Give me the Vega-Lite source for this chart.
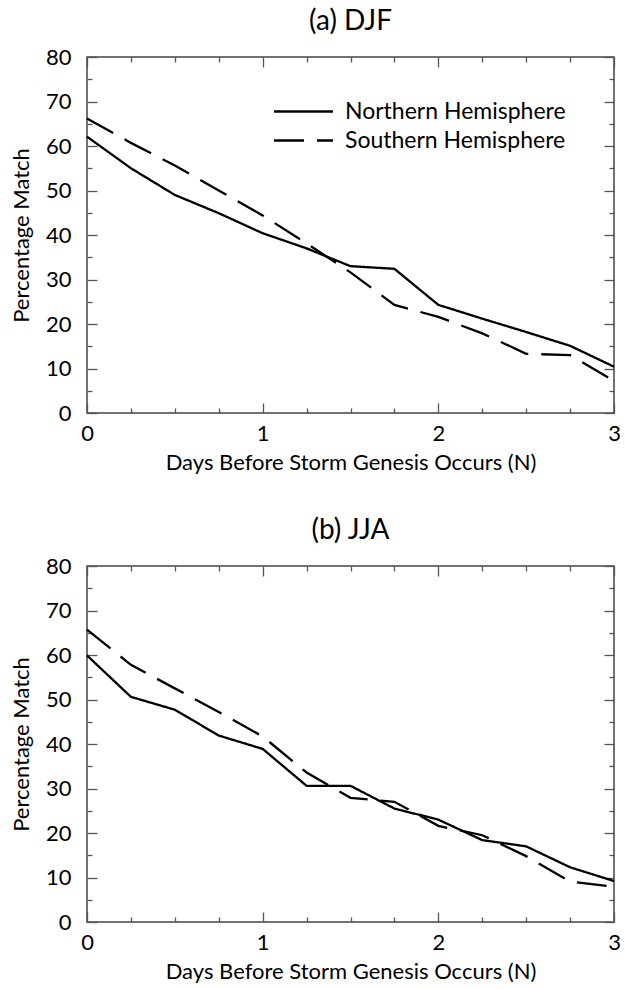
{
  "$schema": "https://vega.github.io/schema/vega-lite/v6.json",
  "padding": {"left": 9, "top": 7, "right": 12, "bottom": 4},
  "background": "white",
  "datasets": {
    "pts": [
      {"season": "DJF", "hemisphere": "Northern Hemisphere", "day": 0, "pct": 62.1},
      {"season": "DJF", "hemisphere": "Northern Hemisphere", "day": 0.25, "pct": 55.0},
      {"season": "DJF", "hemisphere": "Northern Hemisphere", "day": 0.5, "pct": 49.0},
      {"season": "DJF", "hemisphere": "Northern Hemisphere", "day": 0.75, "pct": 44.9},
      {"season": "DJF", "hemisphere": "Northern Hemisphere", "day": 1, "pct": 40.4},
      {"season": "DJF", "hemisphere": "Northern Hemisphere", "day": 1.25, "pct": 37.0},
      {"season": "DJF", "hemisphere": "Northern Hemisphere", "day": 1.5, "pct": 33.0},
      {"season": "DJF", "hemisphere": "Northern Hemisphere", "day": 1.75, "pct": 32.4},
      {"season": "DJF", "hemisphere": "Northern Hemisphere", "day": 2, "pct": 24.3},
      {"season": "DJF", "hemisphere": "Northern Hemisphere", "day": 2.25, "pct": 21.2},
      {"season": "DJF", "hemisphere": "Northern Hemisphere", "day": 2.5, "pct": 18.2},
      {"season": "DJF", "hemisphere": "Northern Hemisphere", "day": 2.75, "pct": 15.1},
      {"season": "DJF", "hemisphere": "Northern Hemisphere", "day": 3, "pct": 10.4},
      {"season": "DJF", "hemisphere": "Southern Hemisphere", "day": 0, "pct": 66.2},
      {"season": "DJF", "hemisphere": "Southern Hemisphere", "day": 0.25, "pct": 60.7},
      {"season": "DJF", "hemisphere": "Southern Hemisphere", "day": 0.5, "pct": 55.6},
      {"season": "DJF", "hemisphere": "Southern Hemisphere", "day": 0.75, "pct": 50.0},
      {"season": "DJF", "hemisphere": "Southern Hemisphere", "day": 1, "pct": 44.4},
      {"season": "DJF", "hemisphere": "Southern Hemisphere", "day": 1.25, "pct": 38.1},
      {"season": "DJF", "hemisphere": "Southern Hemisphere", "day": 1.5, "pct": 31.6},
      {"season": "DJF", "hemisphere": "Southern Hemisphere", "day": 1.75, "pct": 24.3},
      {"season": "DJF", "hemisphere": "Southern Hemisphere", "day": 2, "pct": 21.6},
      {"season": "DJF", "hemisphere": "Southern Hemisphere", "day": 2.25, "pct": 17.9},
      {"season": "DJF", "hemisphere": "Southern Hemisphere", "day": 2.5, "pct": 13.3},
      {"season": "DJF", "hemisphere": "Southern Hemisphere", "day": 2.75, "pct": 13.0},
      {"season": "DJF", "hemisphere": "Southern Hemisphere", "day": 3, "pct": 7.2},
      {"season": "JJA", "hemisphere": "Northern Hemisphere", "day": 0, "pct": 59.9},
      {"season": "JJA", "hemisphere": "Northern Hemisphere", "day": 0.25, "pct": 50.6},
      {"season": "JJA", "hemisphere": "Northern Hemisphere", "day": 0.5, "pct": 47.7},
      {"season": "JJA", "hemisphere": "Northern Hemisphere", "day": 0.75, "pct": 41.9},
      {"season": "JJA", "hemisphere": "Northern Hemisphere", "day": 1, "pct": 38.9},
      {"season": "JJA", "hemisphere": "Northern Hemisphere", "day": 1.25, "pct": 30.6},
      {"season": "JJA", "hemisphere": "Northern Hemisphere", "day": 1.5, "pct": 30.6},
      {"season": "JJA", "hemisphere": "Northern Hemisphere", "day": 1.75, "pct": 25.5},
      {"season": "JJA", "hemisphere": "Northern Hemisphere", "day": 2, "pct": 23.0},
      {"season": "JJA", "hemisphere": "Northern Hemisphere", "day": 2.25, "pct": 18.4},
      {"season": "JJA", "hemisphere": "Northern Hemisphere", "day": 2.5, "pct": 17.0},
      {"season": "JJA", "hemisphere": "Northern Hemisphere", "day": 2.75, "pct": 12.3},
      {"season": "JJA", "hemisphere": "Northern Hemisphere", "day": 3, "pct": 9.2},
      {"season": "JJA", "hemisphere": "Southern Hemisphere", "day": 0, "pct": 65.7},
      {"season": "JJA", "hemisphere": "Southern Hemisphere", "day": 0.25, "pct": 57.8},
      {"season": "JJA", "hemisphere": "Southern Hemisphere", "day": 0.5, "pct": 52.5},
      {"season": "JJA", "hemisphere": "Southern Hemisphere", "day": 0.75, "pct": 47.2},
      {"season": "JJA", "hemisphere": "Southern Hemisphere", "day": 1, "pct": 41.7},
      {"season": "JJA", "hemisphere": "Southern Hemisphere", "day": 1.25, "pct": 33.6},
      {"season": "JJA", "hemisphere": "Southern Hemisphere", "day": 1.5, "pct": 27.9},
      {"season": "JJA", "hemisphere": "Southern Hemisphere", "day": 1.75, "pct": 27.0},
      {"season": "JJA", "hemisphere": "Southern Hemisphere", "day": 2, "pct": 21.6},
      {"season": "JJA", "hemisphere": "Southern Hemisphere", "day": 2.25, "pct": 19.5},
      {"season": "JJA", "hemisphere": "Southern Hemisphere", "day": 2.5, "pct": 14.8},
      {"season": "JJA", "hemisphere": "Southern Hemisphere", "day": 2.75, "pct": 9.1},
      {"season": "JJA", "hemisphere": "Southern Hemisphere", "day": 3, "pct": 7.9}
    ]
  },
  "data": {"name": "pts"},
  "spacing": 42,
  "resolve": {"scale": {"strokeDash": "independent"}, "legend": {"strokeDash": "independent"}},
  "vconcat": [
    {
      "title": {"text": "(a) DJF"},
      "width": 527,
      "height": 356,
      "transform": [{"filter": "datum.season === 'DJF'"}],
      "resolve": {"axis": {"x": "independent", "y": "independent"}},
      "layer": [
        {
          "mark": {"type": "line", "color": "black", "strokeWidth": 2.3},
          "encoding": {
            "x": {"field": "day", "type": "quantitative", "scale": {"domain": [0, 3], "nice": false},
              "axis": {"orient": "bottom", "values": [0, 1, 2, 3], "format": "d", "ticks": false, "labelPadding": 10, "title": "Days Before Storm Genesis Occurs (N)", "titlePadding": 8}},
            "y": {"field": "pct", "type": "quantitative", "scale": {"domain": [0, 80], "nice": false},
              "axis": {"orient": "left", "values": [0, 10, 20, 30, 40, 50, 60, 70, 80], "format": "d", "ticks": false, "labelPadding": 16, "title": "Percentage Match", "titlePadding": 12}},
            "strokeDash": {"field": "hemisphere", "type": "nominal",
              "scale": {"domain": ["Northern Hemisphere", "Southern Hemisphere"], "range": [[1, 0], [30, 13]]},
              "legend": {"orient": "none", "legendX": 205, "legendY": 43, "title": null, "symbolType": "M-3,0H3", "symbolSize": 387, "symbolStrokeWidth": 2.3, "symbolStrokeColor": "black", "symbolFillColor": "transparent", "labelFontSize": 23, "labelOffset": 30, "labelLimit": 0, "rowPadding": 5, "labelColor": "black"}}
          }
        },
        {
          "mark": {"type": "line", "strokeOpacity": 0},
          "encoding": {
            "x": {"field": "day", "type": "quantitative", "axis": {"orient": "bottom", "values": [0, 1, 2, 3], "labels": false, "tickSize": -10, "title": null}},
            "y": {"field": "pct", "type": "quantitative", "axis": {"orient": "left", "values": [0, 10, 20, 30, 40, 50, 60, 70, 80], "labels": false, "tickSize": -10, "title": null}}
          }
        },
        {
          "mark": {"type": "line", "strokeOpacity": 0},
          "encoding": {
            "x": {"field": "day", "type": "quantitative", "axis": {"orient": "top", "values": [0, 1, 2, 3], "labels": false, "tickSize": -10, "title": null}},
            "y": {"field": "pct", "type": "quantitative", "axis": {"orient": "right", "values": [0, 10, 20, 30, 40, 50, 60, 70, 80], "labels": false, "tickSize": -10, "title": null}}
          }
        },
        {
          "mark": {"type": "line", "strokeOpacity": 0},
          "encoding": {
            "x": {"field": "day", "type": "quantitative", "axis": {"orient": "bottom", "values": [0.25, 0.5, 0.75, 1.25, 1.5, 1.75, 2.25, 2.5, 2.75], "labels": false, "tickSize": -5, "title": null}},
            "y": {"field": "pct", "type": "quantitative", "axis": {"orient": "left", "values": [5, 15, 25, 35, 45, 55, 65, 75], "labels": false, "tickSize": -5, "title": null}}
          }
        },
        {
          "mark": {"type": "line", "strokeOpacity": 0},
          "encoding": {
            "x": {"field": "day", "type": "quantitative", "axis": {"orient": "top", "values": [0.25, 0.5, 0.75, 1.25, 1.5, 1.75, 2.25, 2.5, 2.75], "labels": false, "tickSize": -5, "title": null}},
            "y": {"field": "pct", "type": "quantitative", "axis": {"orient": "right", "values": [5, 15, 25, 35, 45, 55, 65, 75], "labels": false, "tickSize": -5, "title": null}}
          }
        }
      ]
    },
    {
      "title": {"text": "(b) JJA"},
      "width": 527,
      "height": 356,
      "transform": [{"filter": "datum.season === 'JJA'"}],
      "resolve": {"axis": {"x": "independent", "y": "independent"}},
      "layer": [
        {
          "mark": {"type": "line", "color": "black", "strokeWidth": 2.3},
          "encoding": {
            "x": {"field": "day", "type": "quantitative", "scale": {"domain": [0, 3], "nice": false},
              "axis": {"orient": "bottom", "values": [0, 1, 2, 3], "format": "d", "ticks": false, "labelPadding": 10, "title": "Days Before Storm Genesis Occurs (N)", "titlePadding": 8}},
            "y": {"field": "pct", "type": "quantitative", "scale": {"domain": [0, 80], "nice": false},
              "axis": {"orient": "left", "values": [0, 10, 20, 30, 40, 50, 60, 70, 80], "format": "d", "ticks": false, "labelPadding": 16, "title": "Percentage Match", "titlePadding": 12}},
            "strokeDash": {"field": "hemisphere", "type": "nominal",
              "scale": {"domain": ["Northern Hemisphere", "Southern Hemisphere"], "range": [[1, 0], [30, 13]]},
              "legend": null}
          }
        },
        {
          "mark": {"type": "line", "strokeOpacity": 0},
          "encoding": {
            "x": {"field": "day", "type": "quantitative", "axis": {"orient": "bottom", "values": [0, 1, 2, 3], "labels": false, "tickSize": -10, "title": null}},
            "y": {"field": "pct", "type": "quantitative", "axis": {"orient": "left", "values": [0, 10, 20, 30, 40, 50, 60, 70, 80], "labels": false, "tickSize": -10, "title": null}}
          }
        },
        {
          "mark": {"type": "line", "strokeOpacity": 0},
          "encoding": {
            "x": {"field": "day", "type": "quantitative", "axis": {"orient": "top", "values": [0, 1, 2, 3], "labels": false, "tickSize": -10, "title": null}},
            "y": {"field": "pct", "type": "quantitative", "axis": {"orient": "right", "values": [0, 10, 20, 30, 40, 50, 60, 70, 80], "labels": false, "tickSize": -10, "title": null}}
          }
        },
        {
          "mark": {"type": "line", "strokeOpacity": 0},
          "encoding": {
            "x": {"field": "day", "type": "quantitative", "axis": {"orient": "bottom", "values": [0.25, 0.5, 0.75, 1.25, 1.5, 1.75, 2.25, 2.5, 2.75], "labels": false, "tickSize": -5, "title": null}},
            "y": {"field": "pct", "type": "quantitative", "axis": {"orient": "left", "values": [5, 15, 25, 35, 45, 55, 65, 75], "labels": false, "tickSize": -5, "title": null}}
          }
        },
        {
          "mark": {"type": "line", "strokeOpacity": 0},
          "encoding": {
            "x": {"field": "day", "type": "quantitative", "axis": {"orient": "top", "values": [0.25, 0.5, 0.75, 1.25, 1.5, 1.75, 2.25, 2.5, 2.75], "labels": false, "tickSize": -5, "title": null}},
            "y": {"field": "pct", "type": "quantitative", "axis": {"orient": "right", "values": [5, 15, 25, 35, 45, 55, 65, 75], "labels": false, "tickSize": -5, "title": null}}
          }
        }
      ]
    }
  ],
  "config": {
    "font": "Lato",
    "view": {"stroke": "#444", "strokeWidth": 1.5},
    "title": {"fontSize": 28, "fontWeight": "normal", "color": "black", "offset": 10, "anchor": "middle"},
    "axis": {"domain": false, "grid": false, "tickColor": "#555", "tickWidth": 1.3, "labelFontSize": 22, "labelColor": "black", "labelFlush": false, "titleFontSize": 22, "titleFontWeight": "normal", "titleColor": "black"}
  }
}
